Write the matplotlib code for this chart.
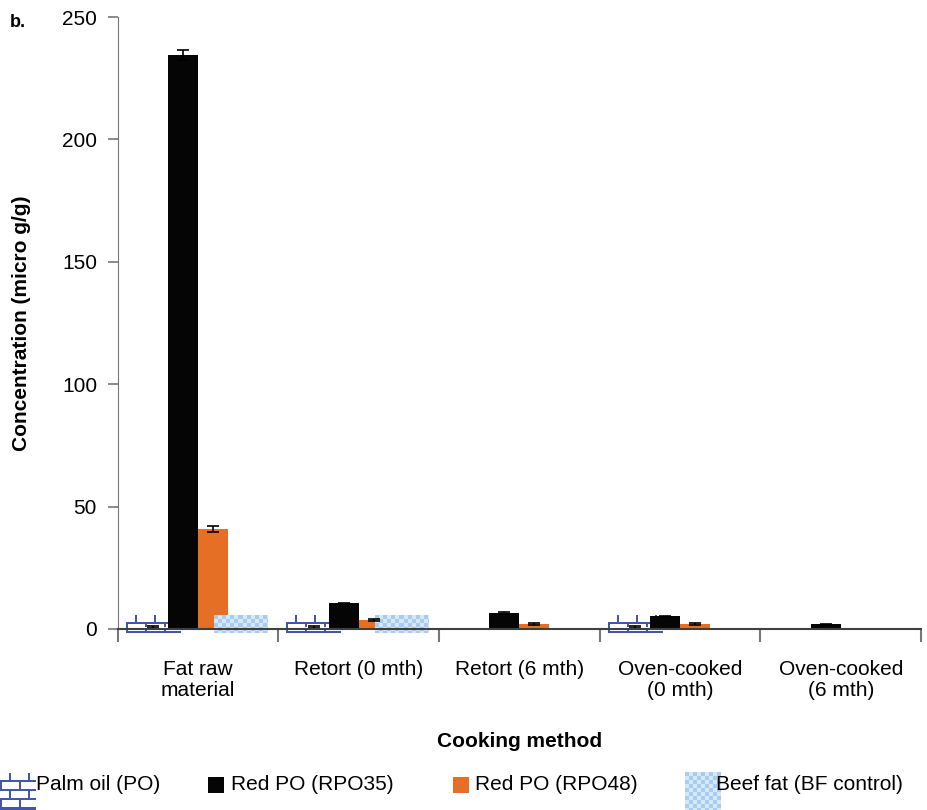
import numpy as np
import matplotlib
matplotlib.use("Agg")
import matplotlib.pyplot as plt

plt.rcParams['font.family'] = ['Liberation Sans', 'DejaVu Sans']

categories = ["Fat raw\nmaterial", "Retort (0 mth)", "Retort (6 mth)",
              "Oven-cooked\n(0 mth)", "Oven-cooked\n(6 mth)"]
series = ["Palm oil (PO)", "Red PO (RPO35)", "Red PO (RPO48)", "Beef fat (BF control)"]

po = [0.8, 0.8, 0.0, 0.8, 0.0]
po_err = [0.4, 0.4, 0.0, 0.4, 0.0]
rpo35 = [234.5, 10.5, 6.5, 5.2, 2.0]
rpo35_err = [2.0, 0.3, 0.3, 0.3, 0.2]
rpo48 = [40.8, 3.7, 2.0, 2.0, 0.0]
rpo48_err = [1.2, 0.3, 0.3, 0.5, 0.0]
bf = [0.4, 0.4, 0.0, 0.0, 0.0]

values = [po, rpo35, rpo48, bf]
errors = [po_err, rpo35_err, rpo48_err, None]
colors = ["white", "#050505", "#E46F25", "#BCD7F0"]


def brick_texture(h, w):
    # white tile with blue mortar lines, staggered rows
    img = np.ones((h, w, 3))
    blue = np.array([0.26, 0.34, 0.68])
    row = 9
    for r0 in range(0, h, row):
        img[min(r0 + row - 2, h - 2):min(r0 + row, h), :] = blue
        shift = 0 if (r0 // row) % 2 else 9
        for c in range(shift, w, 19):
            img[r0:r0 + row, c:c + 2] = blue
    return img


def checker_texture(h, w, cell=4):
    img = np.ones((h, w, 3))
    a = np.array([0.66, 0.80, 0.94])
    b = np.array([0.84, 0.91, 0.97])
    yy, xx = np.mgrid[0:h, 0:w]
    mask = ((yy // cell) + (xx // cell)) % 2 == 0
    img[mask] = a
    img[~mask] = b
    return img


fig = plt.figure(figsize=(9.28, 8.1), dpi=100)
ax = fig.add_axes([0.127, 0.2235, 0.8655, 0.7555])

x = np.arange(len(categories))
w = 0.187
offsets = (np.arange(4) - 1.5) * w

for i, (vals, err, col) in enumerate(zip(values, errors, colors)):
    xs = x + offsets[i]
    ax.bar(xs, vals, w, color=col, zorder=2)
    if i in (0, 3):
        # picture fills: fixed-size texture centred on each non-zero bar
        for xi, v in zip(xs, vals):
            if v <= 0:
                continue
            if i == 0:
                tex = brick_texture(18, 55)
                ext = (xi - 0.17, xi + 0.17, v - 2.4, v + 4.9)
                z = 1
            else:
                tex = checker_texture(18, 53)
                ext = (xi - 0.18, xi + 0.15, v - 2.0, v + 5.3)
                z = 3
            ax.imshow(tex, extent=ext, aspect="auto", zorder=z,
                      interpolation="nearest", clip_on=False)
    if err is not None:
        ax.errorbar(xs, vals, yerr=err, fmt="none", ecolor="black",
                    elinewidth=1.2, capsize=4.5, capthick=1.2, zorder=4)

ax.set_xlim(-0.5, 4.5)
ax.set_ylim(0, 250)
ax.set_yticks(np.arange(0, 251, 50))
ax.set_xticks(x)
ax.set_xticklabels(categories, fontsize=15, linespacing=1.15)
ax.set_xticks(np.arange(-0.5, 4.6, 1), minor=True)
ax.tick_params(axis="x", which="major", length=0, pad=22)
ax.tick_params(axis="x", which="minor", length=9, width=1.5, color="#777777")
ax.tick_params(axis="y", labelsize=15, length=7, width=1.2, color="#777777", pad=8)
for s in ["top", "right"]:
    ax.spines[s].set_visible(False)
ax.spines["left"].set_color("#777777")
ax.spines["bottom"].set_color("#404040")
ax.spines["bottom"].set_linewidth(1.5)
ax.spines["bottom"].set_zorder(5)

ax.set_ylabel("Concentration (micro g/g)", fontsize=15, fontweight="bold")
ax.yaxis.set_label_coords(-0.108, 0.5)
ax.set_xlabel("Cooking method", fontsize=15, fontweight="bold")
ax.xaxis.set_label_coords(0.5, -0.168)
fig.text(0.011, 0.972, "b.", fontsize=13, fontweight="bold", va="center")

# legend row along the bottom edge
W, H = 928.0, 810.0
legend_y = 1 - 785 / H
icon_boxes = [(0, 773, 36, 37), (208, 777, 16, 16), (453, 777, 16, 16), (685, 772, 36, 38)]
text_x = [36, 231, 475, 716]
for k, (label, box) in enumerate(zip(series, icon_boxes)):
    bx, by, bw, bh = box
    iax = fig.add_axes([bx / W, 1 - (by + bh) / H, bw / W, bh / H])
    iax.set_axis_off()
    if k == 0:
        iax.imshow(brick_texture(bh, bw), aspect="auto", interpolation="nearest")
    elif k == 3:
        iax.imshow(checker_texture(bh, bw), aspect="auto", interpolation="nearest")
    else:
        iax.add_patch(plt.Rectangle((0, 0), 1, 1, color=colors[k]))
    fig.text(text_x[k] / W, legend_y, label, fontsize=15, va="center", ha="left")

fig.savefig("out.png", dpi=100)
